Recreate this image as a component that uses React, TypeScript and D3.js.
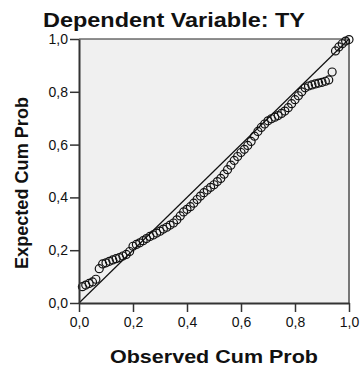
import { useEffect, useRef } from "react";
import * as d3 from "d3";

const chartTitle = "Dependent Variable: TY";
const xTitle = "Observed Cum Prob";
const yTitle = "Expected Cum Prob";
const tickValues = [0, 0.2, 0.4, 0.6, 0.8, 1.0];

// observed cumulative probability of each case
const observed = [
  0.0125, 0.025, 0.0375, 0.05, 0.0625, 0.075, 0.0875, 0.1, 0.1125, 0.125,
  0.1375, 0.15, 0.1625, 0.175, 0.1875, 0.2, 0.2125, 0.225, 0.2375, 0.25,
  0.2625, 0.275, 0.2875, 0.3, 0.3125, 0.325, 0.3375, 0.35, 0.3625, 0.375,
  0.3875, 0.4, 0.4125, 0.425, 0.4375, 0.45, 0.4625, 0.475, 0.4875, 0.5,
  0.5125, 0.525, 0.5375, 0.55, 0.5625, 0.575, 0.5875, 0.6, 0.6125, 0.625,
  0.6375, 0.65, 0.6625, 0.675, 0.6875, 0.7, 0.7125, 0.725, 0.7375, 0.75,
  0.7625, 0.775, 0.7875, 0.8, 0.8125, 0.825, 0.8375, 0.85, 0.8625, 0.875,
  0.8875, 0.9, 0.9125, 0.925, 0.9375, 0.95, 0.9625, 0.975, 0.9875, 1.0,
];

// expected cumulative probability
const expected = [
  0.062, 0.068, 0.074, 0.08, 0.09, 0.13, 0.148, 0.152, 0.158, 0.163,
  0.168, 0.172, 0.178, 0.184, 0.195, 0.215, 0.222, 0.228, 0.236, 0.244,
  0.252, 0.258, 0.265, 0.272, 0.28, 0.287, 0.295, 0.303, 0.315, 0.33,
  0.345, 0.355, 0.365, 0.378, 0.392, 0.405, 0.418, 0.428, 0.438, 0.448,
  0.46, 0.472, 0.488, 0.505, 0.522, 0.54, 0.555, 0.57, 0.582, 0.597,
  0.612, 0.632, 0.65, 0.665, 0.678, 0.69, 0.698, 0.704, 0.71, 0.718,
  0.727, 0.74, 0.755, 0.77, 0.785, 0.8, 0.815, 0.822, 0.826, 0.83,
  0.833, 0.836, 0.84, 0.845, 0.875, 0.955, 0.97, 0.982, 0.992, 0.998,
];

const fmt = (v: number) => v.toFixed(1).replace(".", ",");

export default function App() {
  const svgRef = useRef<SVGSVGElement>(null);

  const width = 360;
  const height = 370;
  const left = 79;
  const right = 349;
  const top = 39;
  const bottom = 303;

  useEffect(() => {
    const svg = d3.select(svgRef.current);
    svg.selectAll("*").remove();

    const x = d3.scaleLinear().domain([0, 1]).range([left, right]);
    const y = d3.scaleLinear().domain([0, 1]).range([bottom, top]);
    const font = "Arial, 'Liberation Sans', sans-serif";

    // plot background
    svg
      .append("rect")
      .attr("x", left)
      .attr("y", top)
      .attr("width", right - left)
      .attr("height", bottom - top)
      .style("fill", "#f0f0f0");

    // frame top / right
    svg
      .append("line")
      .attr("x1", left)
      .attr("x2", right)
      .attr("y1", top)
      .attr("y2", top)
      .style("stroke", "#222")
      .style("stroke-width", "1.2px");
    svg
      .append("line")
      .attr("x1", right)
      .attr("x2", right)
      .attr("y1", top)
      .attr("y2", bottom)
      .style("stroke", "#777")
      .style("stroke-width", "2px");

    // diagonal reference line
    svg
      .append("line")
      .attr("x1", x(0))
      .attr("y1", y(0))
      .attr("x2", x(1))
      .attr("y2", y(1))
      .style("stroke", "#111")
      .style("stroke-width", "1.2px");

    // points
    svg
      .selectAll(".dot")
      .data(observed.map((o, i) => [o, expected[i]]))
      .join("circle")
      .attr("class", "dot")
      .attr("cx", (d) => x(d[0]))
      .attr("cy", (d) => y(d[1]))
      .attr("r", 4)
      .style("fill", "none")
      .style("stroke", "#111")
      .style("stroke-width", "1.2px");

    // axes
    const xAxis = svg
      .append("g")
      .attr("transform", `translate(0,${bottom})`)
      .call(d3.axisBottom(x).tickValues(tickValues).tickFormat(fmt).tickSize(9).tickSizeOuter(0));
    const yAxis = svg
      .append("g")
      .attr("transform", `translate(${left},0)`)
      .call(d3.axisLeft(y).tickValues(tickValues).tickFormat(fmt).tickSize(9).tickSizeOuter(0));

    [xAxis, yAxis].forEach((g) => {
      g.select(".domain").style("stroke", "#333").style("stroke-width", "2px");
      g.selectAll(".tick line").style("stroke", "#333").style("stroke-width", "1.5px");
      g.selectAll(".tick text")
        .style("font-family", font)
        .style("font-size", "14px")
        .style("fill", "#111");
    });
    xAxis.selectAll(".tick text").attr("dy", "0.85em");
    yAxis.selectAll(".tick text").attr("x", -11);

    // titles
    svg
      .append("text")
      .attr("x", 174)
      .attr("y", 27)
      .attr("text-anchor", "middle")
      .attr("textLength", 262)
      .attr("lengthAdjust", "spacingAndGlyphs")
      .style("font-family", font)
      .style("font-size", "21px")
      .style("font-weight", "bold")
      .style("fill", "#111")
      .text(chartTitle);
    svg
      .append("text")
      .attr("x", 214)
      .attr("y", 363)
      .attr("text-anchor", "middle")
      .attr("textLength", 208)
      .attr("lengthAdjust", "spacingAndGlyphs")
      .style("font-family", font)
      .style("font-size", "18px")
      .style("font-weight", "bold")
      .style("fill", "#111")
      .text(xTitle);
    svg
      .append("text")
      .attr("transform", `translate(28,183) rotate(-90)`)
      .attr("text-anchor", "middle")
      .attr("textLength", 172)
      .attr("lengthAdjust", "spacingAndGlyphs")
      .style("font-family", font)
      .style("font-size", "18px")
      .style("font-weight", "bold")
      .style("fill", "#111")
      .text(yTitle);
  }, []);

  return (
    <svg
      ref={svgRef}
      width={width}
      height={height}
      style={{ position: "absolute", left: 0, top: 0, background: "white" }}
    ></svg>
  );
}
